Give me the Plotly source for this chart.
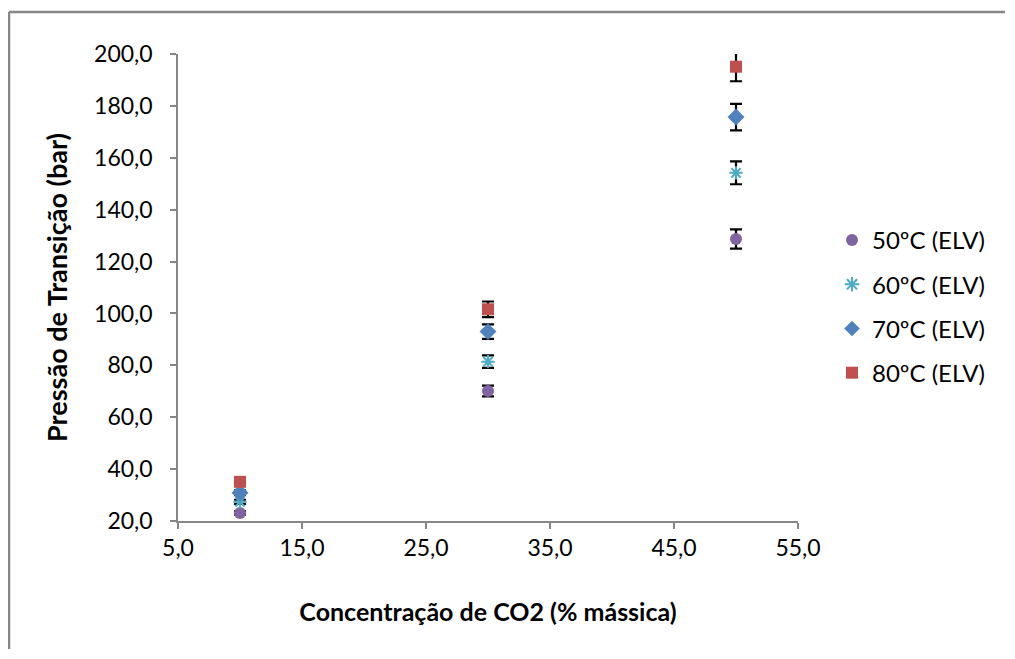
import plotly.graph_objects as go

# Data
conc = [10, 30, 50]
series_names = ["50ºC (ELV)", "60ºC (ELV)", "70ºC (ELV)", "80ºC (ELV)"]
p50 = [23.1, 70.1, 128.7]
p60 = [27.4, 81.4, 154.2]
p70 = [30.9, 93.0, 175.7]
p80 = [35.1, 101.6, 195.1]
e50 = [0.7, 2.1, 3.7]
e60 = [0.8, 2.4, 4.4]
e70 = [0.9, 2.8, 5.1]
e80 = [1.0, 3.0, 5.6]
x_ticks = [5, 15, 25, 35, 45, 55]
y_ticks = [20, 40, 60, 80, 100, 120, 140, 160, 180, 200]

styles = [
    dict(symbol="circle", color="#8064A2", size=12),
    dict(symbol="asterisk-open", color="#4BACC6", size=11),
    dict(symbol="diamond", color="#4F81BD", size=13),
    dict(symbol="square", color="#C0504D", size=12),
]

FONT = "Lato, 'Open Sans', sans-serif"

# Page has an 8px body margin; keep the figure slightly inside the window.
W, H = 997, 641
OFF = 8
# Plot area in screen pixels
PX0, PX1, PY0, PY1 = 178, 798, 54, 521

fig = go.Figure()
for i, (name, ys, es, st) in enumerate(zip(series_names, [p50, p60, p70, p80],
                                           [e50, e60, e70, e80], styles)):
    marker = dict(symbol=st["symbol"], color=st["color"], size=st["size"])
    if st["symbol"].endswith("open"):
        marker["line"] = dict(color=st["color"], width=2)
    else:
        marker["line"] = dict(width=0)
    fig.add_trace(go.Scatter(
        x=conc, y=ys, mode="markers", name=name, marker=marker,
        legendgroup="g%d" % i,
        error_y=dict(type="data", array=es, visible=True, color="black",
                     thickness=2.2, width=6),
    ))

pw = PX1 - PX0
ph = PY1 - PY0

fig.update_layout(
    width=W, height=H,
    margin=dict(l=PX0 - OFF, r=W - (PX1 - OFF), t=PY0 - OFF, b=H - (PY1 - OFF), pad=0),
    paper_bgcolor="white", plot_bgcolor="white",
    separators=",.",
    font=dict(family=FONT, size=23, color="black"),
    showlegend=True,
    legend=dict(x=(832 - PX0) / pw, y=(PY1 - 306.5) / ph, xanchor="left", yanchor="middle",
                font=dict(family=FONT, size=24, color="black"),
                bgcolor="rgba(0,0,0,0)", tracegroupgap=10, itemsizing="constant"),
    xaxis=dict(range=[5, 55], tickvals=x_ticks, tickformat=".1f",
               showgrid=False, zeroline=False, showline=True,
               linecolor="#868686", linewidth=1.5,
               ticks="outside", ticklen=6, tickcolor="#868686", tickwidth=1.5,
               tickfont=dict(family=FONT, size=23),
               title=dict(text="<b>Concentração de CO2 (% mássica)</b>",
                          font=dict(family=FONT, size=25), standoff=43)),
    yaxis=dict(range=[20, 200], tickvals=y_ticks, tickformat=".1f",
               showgrid=False, zeroline=False, showline=True,
               linecolor="#868686", linewidth=1.5,
               ticks="outside", ticklen=6, tickcolor="#868686", tickwidth=1.5,
               ticklabelstandoff=13,
               tickfont=dict(family=FONT, size=23),
               title=dict(text="<b>Pressão de Transição (bar)</b>",
                          font=dict(family=FONT, size=27), standoff=19)),
)

# Outer chart border: only its top and left edges fall inside the captured area,
# running to the figure's right and bottom edges.
border = dict(color="#868686", width=2.5)
bx0 = (9 - PX0) / pw
bx1 = (OFF + W - PX0) / pw
by_top = (PY1 - 12) / ph
by_bot = (PY1 - (OFF + H)) / ph
fig.add_shape(type="line", xref="paper", yref="paper",
              x0=bx0, x1=bx1, y0=by_top, y1=by_top, line=border, layer="below")
fig.add_shape(type="line", xref="paper", yref="paper",
              x0=bx0, x1=bx0, y0=by_bot, y1=by_top, line=border, layer="below")

fig.write_html("out.html")
